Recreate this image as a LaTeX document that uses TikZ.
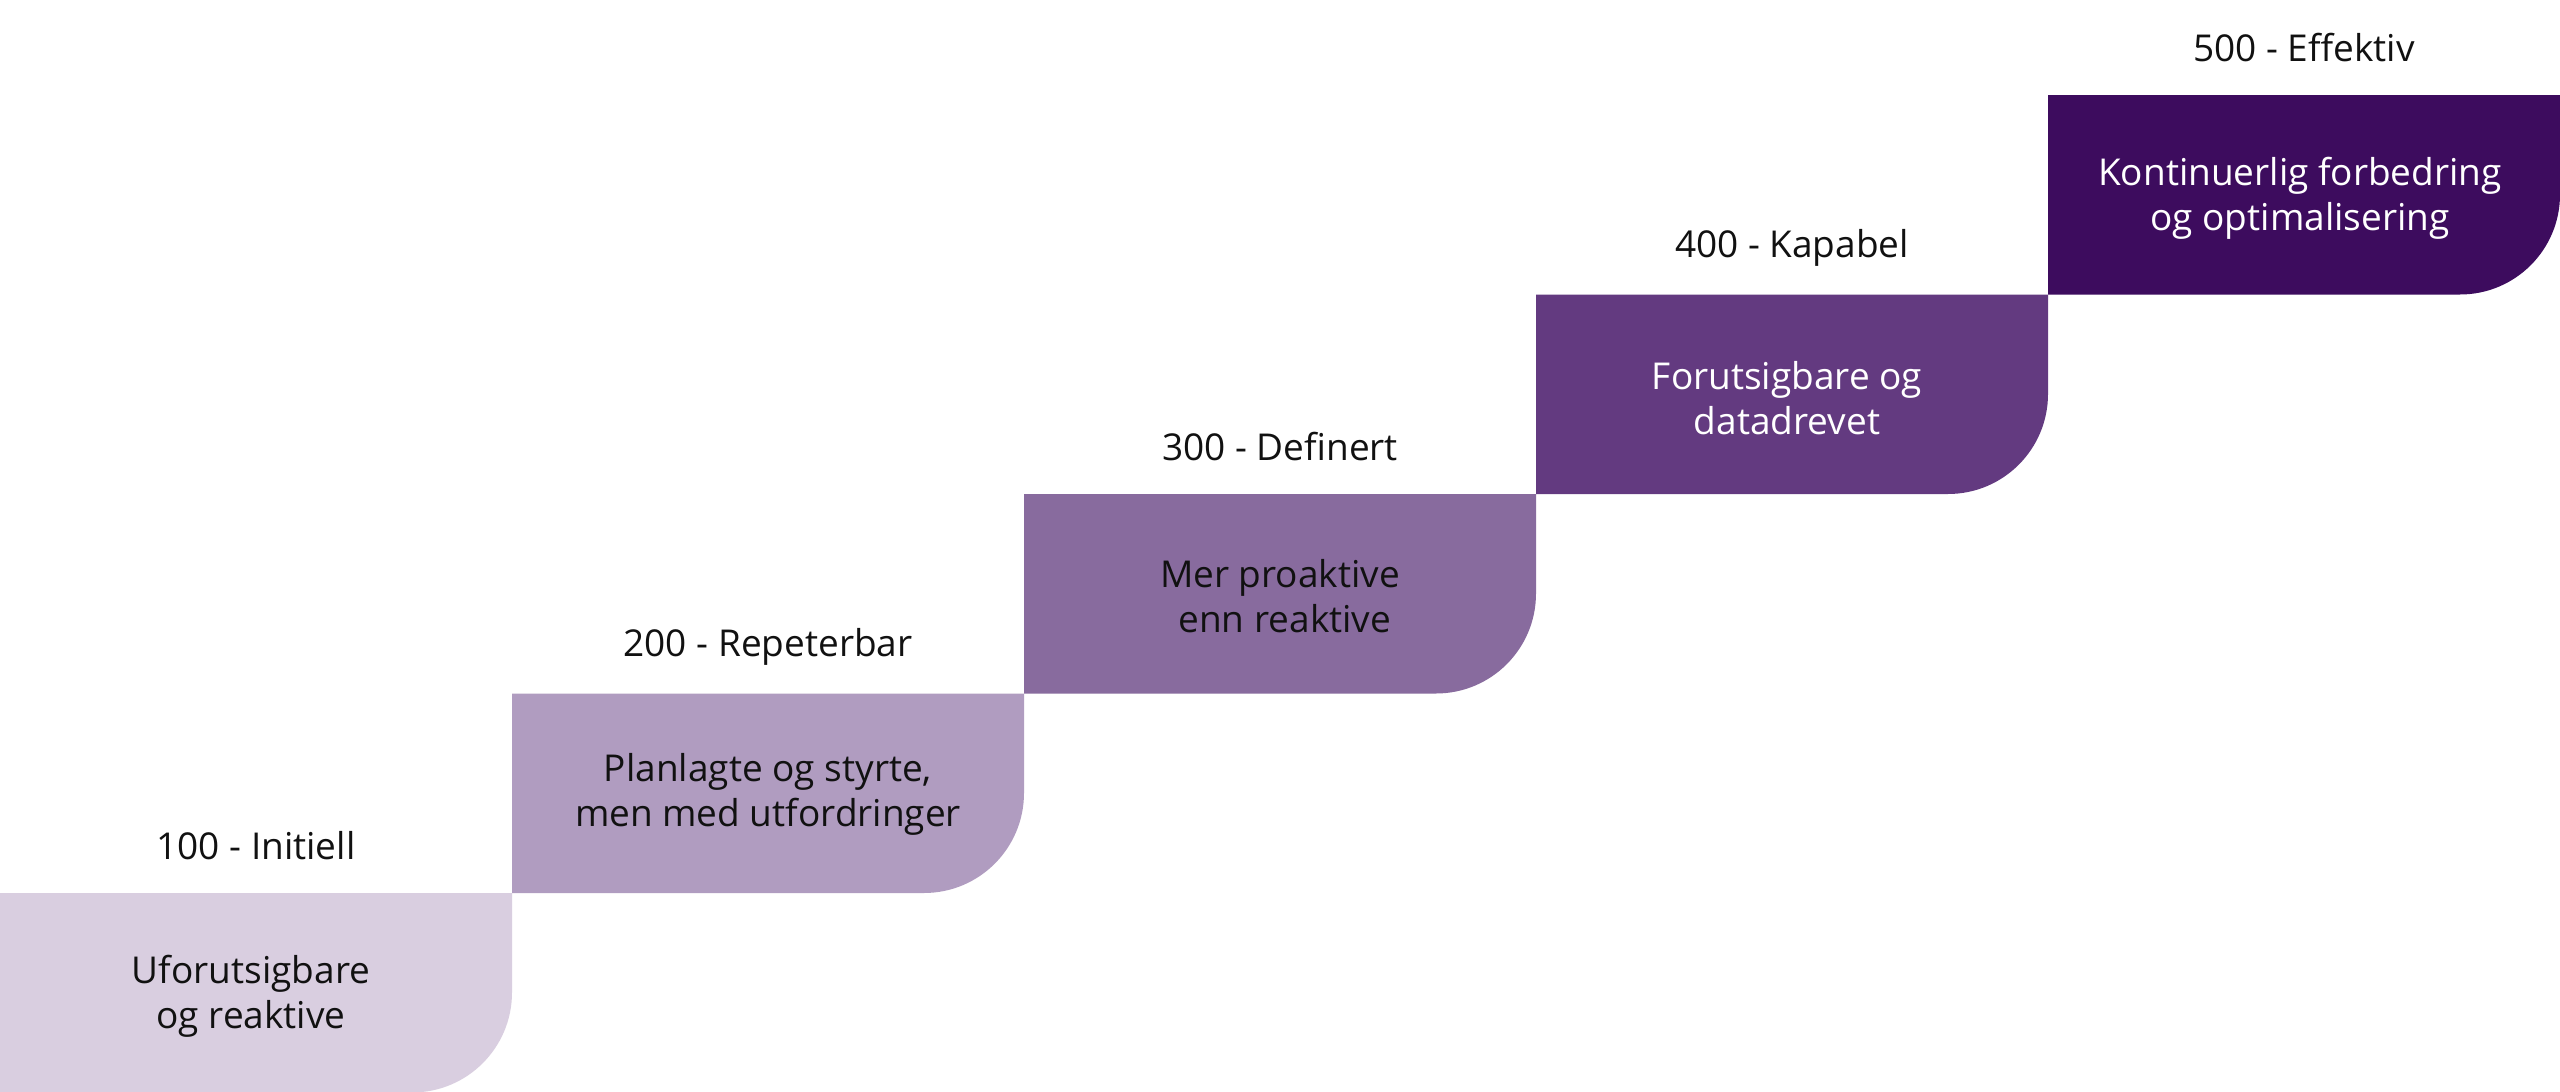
\documentclass[tikz,border=0pt]{standalone}
\usepackage{fontspec}
\setmainfont{Open Sans}
\definecolor{lvA}{HTML}{D9CEE0}
\definecolor{lvB}{HTML}{B09CC0}
\definecolor{lvC}{HTML}{886B9E}
\definecolor{lvD}{HTML}{633A80}
\definecolor{lvE}{HTML}{3D0C5E}
\definecolor{ink}{HTML}{111111}
\begin{document}
\begin{tikzpicture}[x=0.5pt,y=-0.5pt,
  lvltitle/.style={font=\fontsize{18.5}{22}\selectfont, text=ink, anchor=center, inner sep=0pt},
  lvltext/.style={font=\fontsize{18.5}{22.5}\selectfont, align=center, anchor=center, inner sep=0pt},
]
\fill[white] (0,0) rectangle (2560,1092);
\useasboundingbox (0,0) rectangle (2560,1092);
% steps: x0, top
\foreach \xa/\ya/\col in {0/893/lvA, 512/693.5/lvB, 1024/494/lvC, 1536/294.5/lvD, 2048/95/lvE}{
  \fill[\col] (\xa,\ya) -- ({\xa+512},\ya) [rounded corners=50pt] -- ({\xa+512},{\ya+199.5}) [sharp corners] -- (\xa,{\ya+199.5}) -- cycle;
}
\node[lvltitle] (t1) at (256,846) {100 - Initiell};
\node[lvltitle] (t2) at (768,646.5) {200 - Repeterbar};
\node[lvltitle] (t3) at (1280,447) {300 - Definert};
\node[lvltitle] (t4) at (1792,247.5) {400 - Kapabel};
\node[lvltitle] (t5) at (2304,48) {500 - Effektiv};
\node[lvltext, text=ink] (b1) at (251,996) {Uforutsigbare\\og reaktive};
\node[lvltext, text=ink] (b2) at (768,794) {Planlagte og styrte,\\men med utfordringer};
\node[lvltext, text=ink] (b3) at (1280,596) {Mer proaktive\\\ enn reaktive};
\node[lvltext, text=white] (b4) at (1787,398) {Forutsigbare og\\datadrevet};
\node[lvltext, text=white] (b5) at (2300,198) {Kontinuerlig forbedring\\og optimalisering};
\end{tikzpicture}
\end{document}
